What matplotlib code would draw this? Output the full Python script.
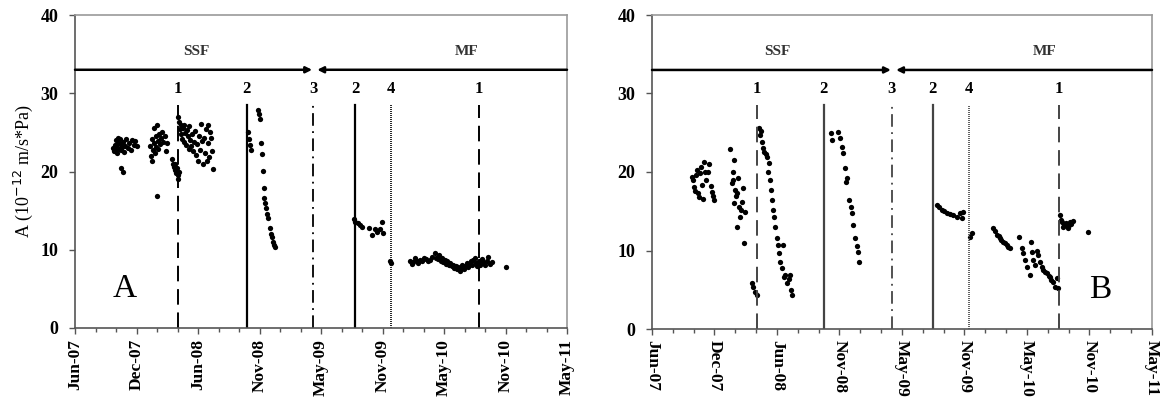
import numpy as np
import matplotlib.pyplot as plt

# pocetak x ose i razmak glavnih podeoka (dani)
start = np.datetime64('2007-06-15')
tick_step = 180
tick_labels = ['Jun-07', 'Dec-07', 'Jun-08', 'Nov-08', 'May-09',
               'Nov-09', 'May-10', 'Nov-10', 'May-11']

# vertikalne linije: oznaka, dan od pocetka, stil
event_names = ['1', '2', '3', '2', '4', '1']
event_styles = ['dashed', 'solid', 'dashdot', 'solid', 'dotted', 'dashed']
events_a = [302, 503, 697, 820, 925, 1182]
events_b = [302, 495, 691, 809, 913, 1172]

# panel A - dani od pocetka i vrednosti
days_a = [112, 114, 116, 118, 120, 121, 123, 125, 127, 129, 131, 133, 135, 137, 140, 143,
          146, 150, 154, 158, 163, 168, 172, 177, 180, 135, 141,
          219, 222, 224, 226, 228, 230, 232, 234, 236, 238, 240, 242, 244, 246, 249, 252,
          255, 258, 262, 266, 268, 240,
          284, 287, 290, 292, 294, 296, 298, 300, 302, 304,
          302, 304, 306, 309, 311, 313, 316, 318, 320, 323, 325, 327, 330, 333, 335, 338,
          340, 343, 346, 349, 352, 355, 357, 360, 363, 366, 369, 372, 375, 378, 381, 384,
          388, 392, 395, 398, 401, 403, 390, 385,
          506, 509, 512, 516, 535, 538, 542, 544, 548, 550, 552, 553, 556, 559, 562, 565,
          571, 575, 577, 580, 585, 582,
          816, 820, 828, 834, 840, 860, 869, 878, 884, 893, 898, 901, 922, 925,
          980, 985, 990, 995, 1000, 1005, 1010, 1015, 1020, 1026, 1032, 1038, 1045, 1054,
          1058, 1062, 1066, 1070, 1074, 1078, 1082, 1086, 1090, 1094, 1098, 1102, 1106,
          1110, 1114, 1118, 1122, 1126, 1130, 1134, 1138, 1142, 1146, 1150, 1154, 1158,
          1162, 1166, 1170, 1174, 1178, 1182, 1186, 1190, 1195, 1200, 1205, 1210, 1215,
          1220, 1261]
vals_a = [23.0, 22.6, 23.4, 22.8, 24.0, 23.2, 22.4, 23.6, 24.3, 22.9, 23.5, 24.1, 22.7, 23.1, 23.8, 22.5,
          23.3, 24.2, 23.0, 23.7, 22.8, 24.0, 23.4, 23.9, 23.2, 20.4, 19.9,
          23.3, 22.0, 21.4, 24.1, 22.8, 25.5, 23.7, 22.4, 24.6, 23.1, 25.9, 23.9, 22.9, 24.8, 23.5, 24.3,
          25.1, 23.8, 24.5, 22.6, 23.6, 16.9,
          21.6, 21.0, 20.6, 20.9, 20.2, 19.8, 20.4, 19.5, 19.1, 19.9,
          27.0, 26.3, 25.4, 24.8, 25.9, 24.2, 25.5, 23.8, 26.0, 24.9, 23.4, 25.3, 24.5, 22.9, 25.8, 24.0,
          23.3, 24.8, 22.6, 23.8, 25.2, 22.1, 23.5, 21.4, 24.6, 22.8, 26.1, 23.9, 21.0, 24.3, 22.4, 25.4,
          23.7, 21.9, 25.0, 24.3, 22.6, 20.3, 26.0, 21.3,
          25.0, 24.1, 23.4, 22.7, 27.8, 27.3, 26.7, 23.6, 22.3, 20.1, 17.9, 16.6, 16.0, 15.3, 14.6, 14.0,
          12.8, 12.0, 11.6, 11.0, 10.3, 10.6,
          13.9, 13.6, 13.4, 13.1, 12.9, 12.8, 11.9, 12.6, 12.3, 12.6, 13.5, 12.1, 8.6, 8.3,
          8.6, 8.2, 8.4, 8.9, 8.5, 8.3, 8.7, 8.6, 8.9, 8.8, 8.6, 8.7, 9.1, 9.6,
          9.0, 8.8, 9.3, 8.6, 8.9, 8.4, 8.7, 8.2, 8.5, 8.0, 8.3, 7.9, 8.1,
          7.7, 7.9, 7.5, 7.8, 7.3, 7.7, 8.0, 7.6, 7.9, 8.3, 7.8, 8.1, 8.5,
          8.0, 8.7, 9.0, 8.3, 7.9, 8.5, 8.1, 8.8, 8.4, 8.0, 8.6, 9.1, 8.2,
          8.4, 7.8]

# panel B
days_b = [115, 118, 121, 124, 127, 130, 133, 136, 138, 141, 144, 147, 150, 153, 156, 160,
          165, 170, 173, 176, 179,
          225, 230, 232, 233, 235, 237, 239, 241, 245, 248, 250, 253, 256, 259, 262, 265,
          268, 244,
          288, 292, 297, 302,
          308, 311, 314, 317, 320, 324, 328, 331, 334, 337, 340, 343, 346, 349, 351, 355,
          360, 363, 366, 369, 374, 377, 380, 383, 389, 394, 397, 400, 403,
          516, 518, 536, 541, 546, 550, 556, 559, 562, 567, 572, 576, 579, 585, 590, 593, 596,
          821, 828, 835, 842, 850, 858, 867, 878, 887, 893, 896, 916, 922,
          982, 988, 994, 998, 1002, 1006, 1011, 1016, 1022, 1026, 1031,
          1057, 1066, 1068, 1074, 1080, 1089, 1092, 1094, 1097, 1103, 1108, 1112, 1117,
          1123, 1126, 1132, 1138, 1142, 1146, 1150, 1155, 1161, 1166, 1169,
          1175, 1178, 1181, 1184, 1188, 1192, 1195, 1198, 1201, 1204, 1208, 1212, 1256]
vals_b = [19.4, 19.0, 18.1, 17.6, 19.6, 20.3, 17.3, 16.8, 19.9, 20.6, 18.4, 16.5, 21.3, 20.0, 19.0, 20.0,
          21.0, 18.2, 17.5, 16.9, 16.4,
          22.9, 18.6, 20.0, 19.0, 16.0, 21.5, 17.7, 16.9, 17.3, 19.2, 15.6, 14.3, 15.2, 16.2, 18.0, 11.0,
          14.9, 13.0,
          5.9, 5.4, 4.7, 4.3,
          25.6, 24.7, 25.2, 23.8, 23.1, 22.5, 22.3, 21.9, 20.0, 21.1, 19.0, 17.7, 16.4, 15.2, 14.3, 13.0,
          11.6, 10.7, 9.7, 8.5, 7.8, 10.7, 6.6, 6.9, 5.9, 6.4, 6.9, 5.0, 4.3,
          25.0, 24.1, 25.1, 24.3, 23.2, 22.4, 20.5, 18.7, 19.2, 16.4, 15.6, 14.8, 13.2, 11.6, 10.6, 9.8, 8.5,
          15.8, 15.5, 15.2, 15.0, 14.8, 14.6, 14.5, 14.3, 14.8, 14.1, 14.9, 11.7, 12.2,
          12.9, 12.5, 12.0, 11.8, 11.6, 11.4, 11.1, 10.9, 10.7, 10.5, 10.3,
          11.7, 10.3, 9.7, 8.8, 7.9, 6.9, 11.1, 9.8, 8.8, 8.2, 9.9, 9.4, 8.5,
          7.9, 7.5, 7.3, 7.1, 6.8, 6.6, 6.3, 6.0, 5.4, 6.5, 5.2,
          14.5, 13.9, 13.6, 13.0, 13.2, 13.5, 13.1, 12.9, 13.3, 13.6, 13.4, 13.8, 12.4]

# tekstovi iznad strelica (dan, vrednost)
phase_text = ['SSF', 'MF']
phase_pos_a = [354, 1147]
phase_pos_b = [360, 1132]

serif = 'Liberation Serif'
plt.rcParams['font.family'] = serif

fig = plt.figure(figsize=(11.65, 4.08), dpi=100)
ax_a = fig.add_axes([75 / 1165, 80 / 408, 492 / 1165, 313 / 408])
ax_b = fig.add_axes([652 / 1165, 79 / 408, 500 / 1165, 314 / 408])

panels = [(ax_a, days_a, vals_a, events_a, phase_pos_a, 'A', 90, 'black'),
          (ax_b, days_b, vals_b, events_b, phase_pos_b, 'B', 270, '#444444')]

for ax, dd, vv, ev, ph, letter, rot, lc in panels:
    x = start + np.array(dd).astype('timedelta64[D]')
    ax.plot(x, vv, 'o', color='black', ms=3.8, mec='black', mew=0, linestyle='none')

    # vertikalne linije i oznake
    for name, day, st in zip(event_names, ev, event_styles):
        t = start + np.timedelta64(day, 'D')
        if st == 'dashed':
            ax.plot([t, t], [0, 28.5], color=lc, lw=1.4, dashes=(8, 4))
        elif st == 'dashdot':
            ax.plot([t, t], [0, 28.5], color=lc, lw=1.3, dashes=(7, 3, 1, 3))
        elif st == 'dotted':
            ax.plot([t, t], [0, 28.5], color=lc, lw=1.2, dashes=(0.6, 0.6))
        else:
            ax.plot([t, t], [0, 28.5], color=lc, lw=1.6)
        ax.text(t, 30.6, name, ha='center', va='center', fontsize=12,
                fontweight='bold', family=serif)

    # strelice SSF / MF oko linije 3
    t3 = start + np.timedelta64(ev[2], 'D')
    x_left = start
    x_right = start + np.timedelta64(8 * tick_step, 'D')
    ax.annotate('', xy=(t3 - np.timedelta64(3, 'D'), 33), xytext=(x_left, 33),
                arrowprops=dict(arrowstyle='-|>', color='black', lw=1.8,
                                mutation_scale=9, shrinkA=0, shrinkB=0))
    ax.annotate('', xy=(t3 + np.timedelta64(12, 'D'), 33), xytext=(x_right, 33),
                arrowprops=dict(arrowstyle='-|>', color='black', lw=1.8,
                                mutation_scale=9, shrinkA=0, shrinkB=0))
    for txt, day in zip(phase_text, ph):
        ax.text(start + np.timedelta64(day, 'D'), 35.3, txt, ha='center', va='center',
                fontsize=11, fontweight='bold', color='#333333', family=serif)

    ax.text(start + np.timedelta64(146 if letter == 'A' else 1290, 'D'), 5.0, letter,
            ha='center', va='center', fontsize=24, family=serif)

    ax.set_xlim(start, x_right)
    ax.set_ylim(0, 40)
    major = [start + np.timedelta64(k * tick_step, 'D') for k in range(9)]
    minor = [start + np.timedelta64(k * 60, 'D') for k in range(25)]
    ax.set_xticks(major)
    ax.set_xticks(minor, minor=True)
    ax.set_xticklabels(tick_labels, rotation=rot, fontsize=12.5, fontweight='bold',
                       ha='center', va='top', rotation_mode='default')
    ax.set_yticks([0, 10, 20, 30, 40])
    ax.set_yticklabels(['0', '10', '20', '30', '40'], fontsize=13, fontweight='bold')
    ax.tick_params(axis='both', which='major', direction='out', length=4, width=1,
                   color='#555555', pad=4)
    ax.tick_params(axis='y', pad=8)
    ax.tick_params(axis='x', which='minor', direction='out', length=3, width=1,
                   color='#555555')
    for s in ['top', 'right']:
        ax.spines[s].set_color('#9a9a9a')
    for s in ['left', 'bottom']:
        ax.spines[s].set_color('#555555')
    for s in ax.spines.values():
        s.set_linewidth(1.2)

ax_a.set_ylabel('A (10$^{-12}$ m/s*Pa)', fontsize=13, labelpad=4)

fig.savefig('out.png', dpi=100)
